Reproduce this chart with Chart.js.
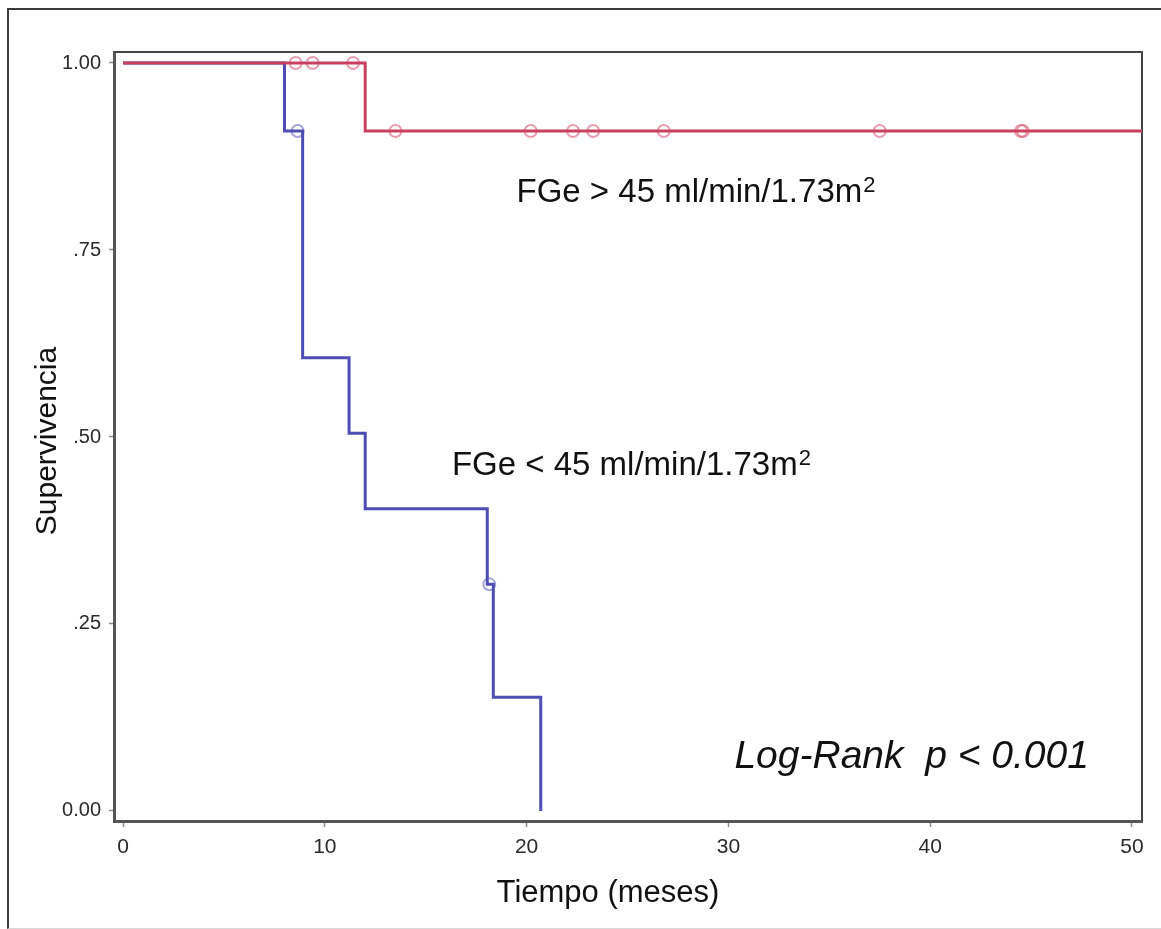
<!DOCTYPE html>
<html>
<head>
<meta charset="utf-8">
<script src="https://cdn.jsdelivr.net/npm/chart.js@4.4.1/dist/chart.umd.min.js"></script>
<style>
  html, body { margin: 0; padding: 0; background: #fff; }
  #wrap { position: relative; width: 1161px; height: 929px; overflow: hidden; }
  #frame { position: absolute; left: 7px; top: 8px; width: 1170px; height: 918px;
           border-left: 2px solid #3a3a3a; border-top: 2px solid #3a3a3a; border-bottom: 1px solid #d8d8d8; }
  canvas { position: absolute; left: 0; top: 0; }
</style>
</head>
<body>
<div id="wrap">
  <div id="frame"></div>
  <canvas id="km" width="1161" height="929"></canvas>
</div>
<script>
// Kaplan-Meier survival steps (time in months, survival after the event)
const highTimes = [0, 12, 50.5];
const highSurv  = [1, 0.909, 0.909];
const lowTimes  = [0, 8, 8.9, 11.2, 12, 18.05, 18.35, 20.7];
const lowSurv   = [1, 0.909, 0.606, 0.505, 0.404, 0.303, 0.152, 0];

// censored observations
const highCensTimes = [8.55, 9.4, 11.4, 13.5, 20.2, 22.3, 23.3, 26.8, 37.5, 44.5, 44.6];
const highCensSurv  = [1, 1, 1, 0.909, 0.909, 0.909, 0.909, 0.909, 0.909, 0.909, 0.909];
const lowCensTimes  = [8.65, 18.15];
const lowCensSurv   = [0.909, 0.303];

// axis ticks
const xTicks = [0, 10, 20, 30, 40, 50];
const yTicks = [0, 0.25, 0.5, 0.75, 1];
const yTickLabels = ['0.00', '.25', '.50', '.75', '1.00'];

const xTitle = 'Tiempo (meses)';
const yTitle = 'Supervivencia';
const highLabel = 'FGe > 45 ml/min/1.73m';
const lowLabel  = 'FGe < 45 ml/min/1.73m';
const testLabel = 'Log-Rank  p < 0.001';

const RED = '#c8405e';
const BLUE = '#4d4db4';
const FONT = '"Liberation Sans", Arial, Helvetica, sans-serif';

const pts = (xs, ys) => xs.map((x, i) => ({ x, y: ys[i] }));

const frameAndText = {
  id: 'frameAndText',
  beforeDatasetsDraw(chart) {
    const { ctx, chartArea: a } = chart;
    ctx.save();
    ctx.strokeStyle = '#444';
    ctx.lineWidth = 2;
    ctx.beginPath();
    ctx.moveTo(a.left, a.top);
    ctx.lineTo(a.right, a.top);
    ctx.lineTo(a.right, a.bottom);
    ctx.stroke();
    ctx.restore();
  },
  afterDraw(chart) {
    const { ctx, scales: { x, y } } = chart;
    ctx.save();
    ctx.fillStyle = '#111';
    ctx.textBaseline = 'alphabetic';

    const supText = (txt, vx, vy) => {
      const px = x.getPixelForValue(vx), py = y.getPixelForValue(vy);
      ctx.font = '33px ' + FONT;
      ctx.textAlign = 'left';
      ctx.fillText(txt, px, py);
      const w = ctx.measureText(txt).width;
      ctx.font = '22px ' + FONT;
      ctx.fillText('2', px + w + 1, py - 10);
    };
    supText(highLabel, 19.5, 0.814);
    supText(lowLabel, 16.3, 0.449);

    ctx.font = 'italic 39px ' + FONT;
    ctx.textAlign = 'left';
    ctx.fillText(testLabel, x.getPixelForValue(30.3), y.getPixelForValue(0.057));

    // axis titles
    ctx.font = '31px ' + FONT;
    ctx.textAlign = 'center';
    ctx.textBaseline = 'middle';
    ctx.fillText(xTitle, 608, 893);
    ctx.translate(48, 441);
    ctx.rotate(-Math.PI / 2);
    ctx.font = '30px ' + FONT;
    ctx.fillText(yTitle, 0, 0);
    ctx.restore();
  }
};

new Chart(document.getElementById('km'), {
  type: 'scatter',
  data: {
    datasets: [
      { data: pts(lowCensTimes, lowCensSurv), showLine: false, pointStyle: 'circle',
        pointRadius: 6, pointBorderWidth: 2, pointBorderColor: 'rgba(90,90,190,0.55)',
        pointBackgroundColor: 'rgba(0,0,0,0)', order: 4 },
      { data: pts(lowTimes, lowSurv), showLine: true, stepped: 'before', borderColor: BLUE,
        borderWidth: 3, pointRadius: 0, order: 3 },
      { data: pts(highCensTimes, highCensSurv), showLine: false, pointStyle: 'circle',
        pointRadius: 6, pointBorderWidth: 2, pointBorderColor: 'rgba(215,95,120,0.6)',
        pointBackgroundColor: 'rgba(0,0,0,0)', order: 2 },
      { data: pts(highTimes, highSurv), showLine: true, stepped: 'before', borderColor: RED,
        borderWidth: 3, pointRadius: 0, order: 1 }
    ]
  },
  options: {
    responsive: false,
    animation: false,
    events: [],
    layout: { padding: { left: 0, top: 52, right: 19, bottom: 0 } },
    plugins: { legend: { display: false }, tooltip: { enabled: false } },
    scales: {
      x: {
        type: 'linear', min: -0.45, max: 50.5,
        afterBuildTicks: s => { s.ticks = xTicks.map(v => ({ value: v })); },
        afterFit: s => { s.height = 108; },
        grid: { drawOnChartArea: false, drawTicks: true, tickLength: 6, tickColor: '#888', tickWidth: 1.5 },
        border: { display: true, color: '#555', width: 3 },
        ticks: { color: '#2a2a2a', font: { family: FONT, size: 21 }, padding: 8, maxRotation: 0 }
      },
      y: {
        type: 'linear', min: -0.0134, max: 1.0147,
        afterBuildTicks: s => { s.ticks = yTicks.map(v => ({ value: v })); },
        afterFit: s => { s.width = 114; },
        grid: { drawOnChartArea: false, drawTicks: true, tickLength: 5, tickColor: '#888', tickWidth: 1.5 },
        border: { display: true, color: '#555', width: 3 },
        ticks: { color: '#2a2a2a', font: { family: FONT, size: 20 }, padding: 8,
                 callback: v => { const i = yTicks.indexOf(v); return i >= 0 ? yTickLabels[i] : ''; } }
      }
    }
  },
  plugins: [frameAndText]
});
</script>
</body>
</html>
